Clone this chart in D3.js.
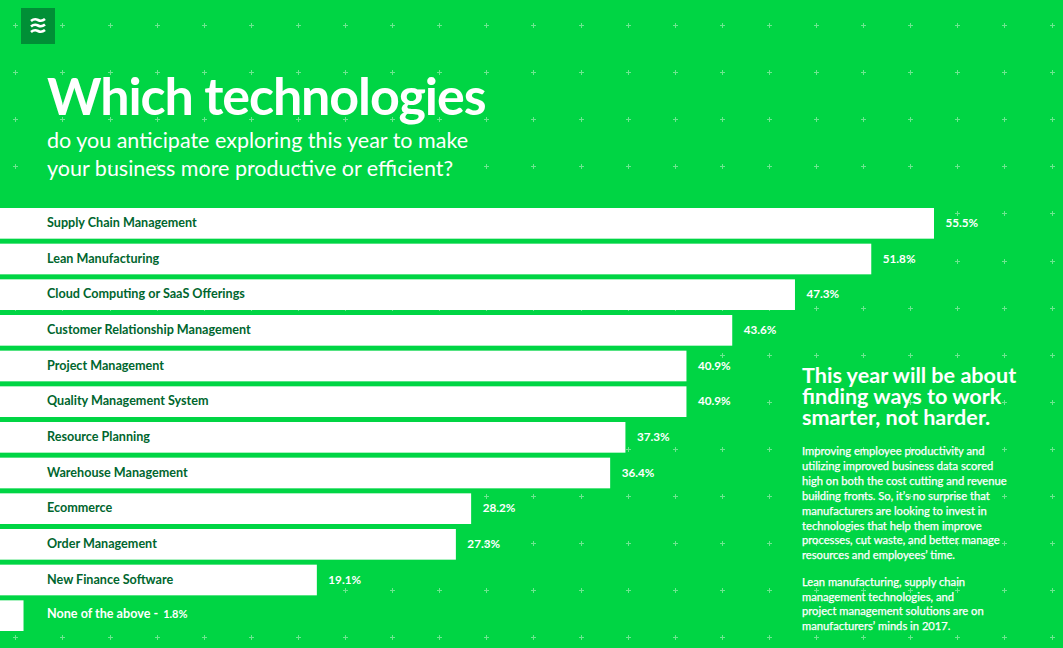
<!DOCTYPE html>
<html>
<head>
<meta charset="utf-8">
<script src="https://cdn.jsdelivr.net/npm/d3@7"></script>
<style>
html, body { margin: 0; padding: 0; background: #00d544; overflow: hidden; }
svg { display: block; font-family: Lato, sans-serif; }
</style>
</head>
<body>
<script>
const categories = ['Supply Chain Management', 'Lean Manufacturing', 'Cloud Computing or SaaS Offerings',
  'Customer Relationship Management', 'Project Management', 'Quality Management System',
  'Resource Planning', 'Warehouse Management', 'Ecommerce', 'Order Management',
  'New Finance Software', 'None of the above'];
const values = [55.5, 51.8, 47.3, 43.6, 40.9, 40.9, 37.3, 36.4, 28.2, 27.3, 19.1, 1.8];
const subtitleLines = ['do you anticipate exploring this year to make', 'your business more productive or efficient?'];
const headingLines = ['This year will be about', 'finding ways to work', 'smarter, not harder.'];
const bodyLines = ['Improving employee productivity and', 'utilizing improved business data scored',
  'high on both the cost cutting and revenue', 'building fronts. So, it\u2019s no surprise that',
  'manufacturers are looking to invest in', 'technologies that help them improve',
  'processes, cut waste, and better manage', 'resources and employees\u2019 time.'];
const bodyLines2 = ['Lean manufacturing, supply chain', 'management technologies, and',
  'project management solutions are on', 'manufacturers\u2019 minds in 2017.'];

const width = 1063, height = 648;
const svg = d3.select('body').append('svg').attr('width', width).attr('height', height);
svg.append('rect').attr('width', width).attr('height', height).attr('fill', '#00d544');

// background plus pattern
const plusX = d3.range(15.3, width, 47.1);
const plusY = d3.range(25, height, 47.1);
const plus = svg.append('g').attr('stroke', '#6ee690').attr('stroke-width', 1);
plusY.forEach(py => plusX.forEach(px => {
  const cx = Math.round(px), cy = Math.round(py);
  plus.append('path').attr('d', `M${cx - 2},${cy + 0.5}h5M${cx + 0.5},${cy - 2}v5`);
}));

// logo
svg.append('rect').attr('x', 21).attr('y', 8).attr('width', 34).attr('height', 36).attr('fill', '#008f36');
[21, 26.500, 32].forEach(ly => {
  svg.append('path')
    .attr('d', `M31,${ly}q3.500,-3 7,-1t7,-1`)
    .attr('fill', 'none').attr('stroke', '#fff').attr('stroke-width', 2.6);
});

// title block
svg.append('text').attr('x', 47).attr('y', 115).attr('fill', '#fff')
  .style('font-size', '52px').style('font-weight', 700).style('letter-spacing', '-1.1px')
  .text('Which technologies');
svg.selectAll('.sub').data(subtitleLines).join('text').attr('class', 'sub')
  .attr('x', 47).attr('y', (d, i) => 148 + i * 28).attr('fill', '#fff')
  .style('font-size', '21.500px').style('font-weight', 400).text(d => d);

// bars
const x = d3.scaleLinear().domain([0, 55.5]).range([-7, 934]);
const y = d3.scaleBand().domain(categories).range([208, 631]).paddingInner(0.14);
const last = categories[categories.length - 1];
const rows = categories.map((c, i) => ({ name: c, value: values[i] }));

svg.selectAll('.bar').data(rows).join('rect').attr('class', 'bar')
  .attr('x', 0).attr('y', d => y(d.name))
  .attr('width', d => x(d.value)).attr('height', y.bandwidth()).attr('fill', '#fff');

svg.selectAll('.name').data(rows).join('text').attr('class', 'name')
  .attr('x', 47).attr('y', d => y(d.name) + y.bandwidth() / 2 + (d.name === last ? 2.5 : 3.7))
  .attr('fill', d => d.name === last ? '#fff' : '#00662e')
  .style('font-size', '12.600px').style('font-weight', 700)
  .text(d => d.name === last ? `${d.name} -` : d.name)
  .filter(d => d.name === last)
  .append('tspan').attr('dx', 5).style('font-size', '11px').text(d => d.value + '%');

svg.selectAll('.val').data(rows.filter(d => d.name !== last)).join('text').attr('class', 'val')
  .attr('x', d => x(d.value) + 11.500).attr('y', d => y(d.name) + y.bandwidth() / 2 + 3.7)
  .attr('fill', '#fff').style('font-size', '11.700px').style('font-weight', 700)
  .text(d => d.value + '%');

// side copy
svg.selectAll('.head').data(headingLines).join('text').attr('class', 'head')
  .attr('x', 802).attr('y', (d, i) => 383 + i * 21).attr('fill', '#fff')
  .style('font-size', '21.600px').style('font-weight', 700).text(d => d);
svg.selectAll('.body1').data(bodyLines).join('text').attr('class', 'body1')
  .attr('x', 802).attr('y', (d, i) => 455 + i * 14.9).attr('fill', '#fff').attr('stroke', '#fff').attr('stroke-width', 0.25)
  .style('font-size', '11.200px').text(d => d);
svg.selectAll('.body2').data(bodyLines2).join('text').attr('class', 'body2')
  .attr('x', 802).attr('y', (d, i) => 586 + i * 14.7).attr('fill', '#fff').attr('stroke', '#fff').attr('stroke-width', 0.25)
  .style('font-size', '11.200px').text(d => d);
</script>
</body>
</html>
